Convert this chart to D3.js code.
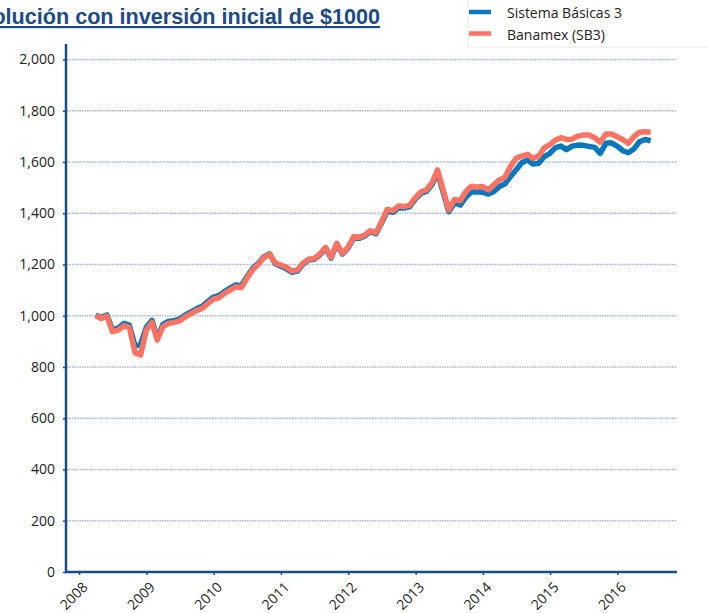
<!DOCTYPE html>
<html>
<head>
<meta charset="utf-8">
<script src="https://cdn.jsdelivr.net/npm/d3@7"></script>
<style>
  body { margin: 0; background: #fff; }
  svg { display: block; }
</style>
</head>
<body>
<div id="chart"></div>
<script>
// monthly values, end of month, from Mar 2008 to Jun 2016
const firstYear = 2008;
const firstMonth = 2; // March
const seriesNames = ['Sistema Básicas 3', 'Banamex (SB3)'];
const sistemaBasicas = [
  1003, 993, 1003, 946, 951, 970, 963, 882, 888, 955,
  982, 912, 966, 978, 981, 987, 1003, 1015, 1027, 1037,
  1056, 1073, 1079, 1094, 1108, 1120, 1117, 1152, 1184, 1205,
  1230, 1242, 1204, 1193, 1183, 1170, 1174, 1201, 1218, 1220,
  1238, 1264, 1225, 1280, 1241, 1264, 1305, 1302, 1311, 1328,
  1320, 1362, 1408, 1404, 1421, 1420, 1426, 1456, 1478, 1485,
  1512, 1560, 1480, 1406, 1441, 1432, 1462, 1483, 1484, 1482,
  1475, 1484, 1504, 1514, 1543, 1569, 1597, 1608, 1592, 1595,
  1621, 1634, 1656, 1662, 1648, 1662, 1666, 1665, 1661, 1657,
  1634, 1673, 1675, 1662, 1644, 1636, 1651, 1679, 1688, 1683
];
const banamex = [
  1000, 989, 999, 938, 944, 961, 955, 855, 847, 944,
  974, 905, 957, 970, 974, 980, 996, 1008, 1020, 1029,
  1048, 1065, 1071, 1087, 1100, 1113, 1110, 1146, 1179, 1201,
  1227, 1240, 1207, 1198, 1189, 1175, 1178, 1205, 1221, 1223,
  1241, 1267, 1228, 1283, 1244, 1267, 1309, 1306, 1315, 1332,
  1324, 1367, 1415, 1410, 1428, 1426, 1432, 1462, 1484, 1491,
  1519, 1569, 1490, 1413, 1454, 1449, 1484, 1505, 1502, 1504,
  1491, 1510, 1530, 1540, 1582, 1614, 1623, 1630, 1614, 1623,
  1655, 1668, 1686, 1695, 1688, 1689, 1701, 1705, 1705, 1695,
  1677, 1709, 1709, 1699, 1687, 1673, 1699, 1716, 1718, 1716
];
const yearTicks = [2008, 2009, 2010, 2011, 2012, 2013, 2014, 2015, 2016];
const yTicks = [0, 200, 400, 600, 800, 1000, 1200, 1400, 1600, 1800, 2000];
const colors = ['#0a77bd', '#fd7363'];

const width = 708;
const height = 613;
const navy = '#1b4b8b';

const svg = d3.select('#chart')
  .append('svg')
    .attr('width', width)
    .attr('height', height);

// last day of each month
const dates = banamex.map((d, i) => new Date(firstYear, firstMonth + i + 1, 0));

const x = d3.scaleTime()
  .domain([new Date(2007, 9, 22), new Date(2016, 10, 20)])
  .range([66, 677]);
const y = d3.scaleLinear()
  .domain([0, 2000])
  .range([572, 59.5]);

// gridlines
svg.append('g')
  .selectAll('line')
  .data(yTicks.filter(d => d > 0))
  .join('line')
    .attr('x1', 67)
    .attr('x2', 677)
    .attr('y1', d => y(d))
    .attr('y2', d => y(d))
    .attr('stroke', '#a5b8d2')
    .attr('stroke-width', 1.5)
    .attr('stroke-dasharray', '1.5 1');

// y axis
const yAxis = svg.append('g')
  .attr('transform', 'translate(66,0)')
  .call(d3.axisLeft(y).tickValues(yTicks).tickSize(3).tickPadding(8).tickFormat(d3.format(',')));
yAxis.select('.domain').remove();
yAxis.selectAll('.tick line').attr('stroke', navy).attr('stroke-width', 1.5);
yAxis.selectAll('text')
  .attr('fill', '#222')
  .style('font-family', 'Open Sans, sans-serif')
  .style('font-size', '14px');
svg.append('line')
  .attr('x1', 66).attr('x2', 66)
  .attr('y1', 44).attr('y2', 573)
  .attr('stroke', navy)
  .attr('stroke-width', 2.5);

// x axis
const xAxis = svg.append('g')
  .attr('transform', 'translate(0,572)')
  .call(d3.axisBottom(x).tickValues(yearTicks.map(d => new Date(d, 0, 1))).tickSize(3).tickFormat(d3.timeFormat('%Y')));
xAxis.select('.domain').remove();
xAxis.selectAll('.tick line').attr('stroke', navy).attr('stroke-width', 1.5);
xAxis.selectAll('text')
  .attr('fill', '#222')
  .attr('text-anchor', 'end')
  .attr('y', 0)
  .attr('dy', 0)
  .attr('transform', 'translate(9,16) rotate(-45)')
  .style('font-family', 'Open Sans, sans-serif')
  .style('font-size', '14px');
svg.append('line')
  .attr('x1', 65).attr('x2', 677)
  .attr('y1', 572).attr('y2', 572)
  .attr('stroke', navy)
  .attr('stroke-width', 2.5);

// lines, blue under red
const line = d3.line()
  .x((d, i) => x(dates[i]))
  .y(d => y(d));
svg.append('g')
  .selectAll('path')
  .data([sistemaBasicas, banamex])
  .join('path')
    .attr('fill', 'none')
    .attr('stroke', (d, i) => colors[i])
    .attr('stroke-width', 5.5)
    .attr('stroke-linejoin', 'round')
    .attr('d', line);

// title, cut at the left edge as in the original
svg.append('text')
  .attr('x', 380)
  .attr('y', 24)
  .attr('text-anchor', 'end')
  .attr('fill', navy)
  .style('font-family', 'Liberation Sans, sans-serif')
  .style('font-weight', 'bold')
  .style('font-size', '21.6px')
  .style('text-decoration', 'underline')
  .text('Evolución con inversión inicial de $1000');

// legend
const legend = svg.append('g');
legend.append('rect')
  .attr('x', 468)
  .attr('y', -5)
  .attr('width', 260)
  .attr('height', 52)
  .attr('fill', '#fff')
  .attr('stroke', '#e8e8e8');
const item = legend.selectAll('g')
  .data(seriesNames)
  .join('g')
    .attr('transform', (d, i) => `translate(0,${12 + i * 21.5})`);
item.append('line')
  .attr('x1', 469)
  .attr('x2', 491)
  .attr('stroke', (d, i) => colors[i])
  .attr('stroke-width', 4.5);
item.append('text')
  .attr('x', 507)
  .attr('y', 6)
  .attr('fill', '#222')
  .style('font-family', 'Open Sans, sans-serif')
  .style('font-size', '14px')
  .text(d => d);
</script>
</body>
</html>
